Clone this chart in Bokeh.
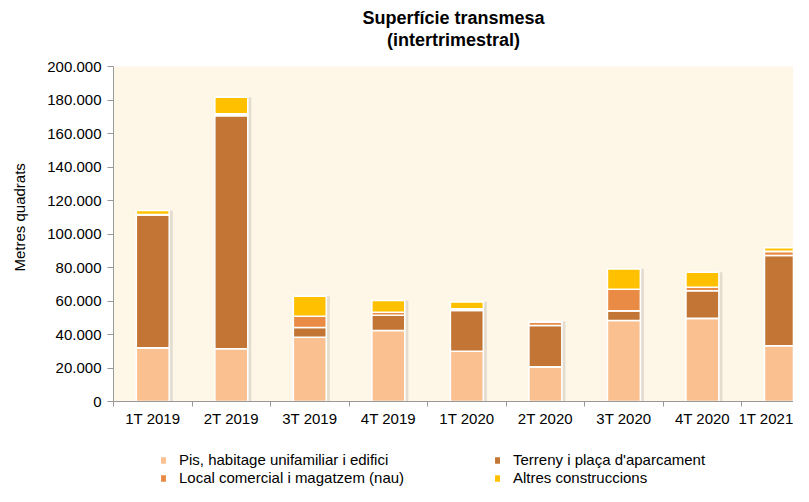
from bokeh.plotting import figure
from bokeh.layouts import column
from bokeh.models import (Range1d, FixedTicker, Title, Legend, LegendItem, ColumnDataSource)
from bokeh.embed import file_html
from bokeh.resources import INLINE

categories = ["1T 2019", "2T 2019", "3T 2019", "4T 2019", "1T 2020",
              "2T 2020", "3T 2020", "4T 2020", "1T 2021"]
pis = [32000, 31500, 38400, 42400, 30000, 20700, 48400, 49600, 33300]
terreny = [79300, 139200, 5800, 9100, 24300, 24700, 5700, 16500, 53900]
local = [300, 1000, 6700, 1800, 1000, 2000, 12900, 2100, 2400]
altres = [2400, 10000, 12000, 7000, 4200, 400, 12200, 9000, 2200]
series_names = ["Pis, habitage unifamiliar i edifici", "Terreny i plaça d'aparcament",
                "Local comercial i magatzem (nau)", "Altres construccions"]
colors = ["#FAC090", "#C27534", "#E98B44", "#FFC000"]
y_ticks = [0, 20000, 40000, 60000, 80000, 100000, 120000, 140000, 160000, 180000, 200000]

FONT = "Liberation Sans"
W = 793
H_CHART = 432
H_LEG = 54
LEFT = 113

xs = [i + 0.5 for i in range(len(categories))]
totals = [a + b + c + d for a, b, c, d in zip(pis, terreny, local, altres)]
src = ColumnDataSource(dict(x=xs, pis=pis, terreny=terreny, local=local, altres=altres,
                            total=totals, xs_shadow=[x + 0.03 for x in xs]))

p = figure(width=W, height=H_CHART, output_backend="svg", toolbar_location=None,
           x_range=Range1d(0, 8.66), y_range=Range1d(0, 200000), title=None,
           min_border_left=LEFT, min_border_right=0, min_border_top=66, min_border_bottom=31)
p.background_fill_color = "#FEF6E7"
p.border_fill_color = "white"
p.outline_line_color = None
p.xgrid.visible = False
p.ygrid.visible = False

# soft shadow
p.vbar(x="xs_shadow", top="total", bottom=0, width=0.45, source=src,
       fill_color="black", fill_alpha=0.10, line_color=None)

rs = p.vbar_stack(["pis", "terreny", "local", "altres"], x="x", width=0.42, source=src,
                  color=colors, line_color="white", line_width=1.6)
for r, c in zip(rs, colors):
    r.glyph.fill_color = c
    r.glyph.line_color = "white"

# axes
p.xaxis.ticker = FixedTicker(ticks=xs, minor_ticks=list(range(0, 10)))
p.xaxis.major_label_overrides = {x: c for x, c in zip(xs, categories)}
p.xaxis.major_tick_out = 0
p.xaxis.major_tick_in = 0
p.xaxis.minor_tick_out = 5
p.xaxis.minor_tick_in = 0
p.xaxis.major_label_standoff = 3
p.xaxis.major_label_text_font = FONT
p.xaxis.major_label_text_font_size = "15px"
p.xaxis.major_label_text_color = "black"
p.xaxis.axis_line_color = "#999999"
p.xaxis.minor_tick_line_color = "#999999"

p.yaxis.ticker = FixedTicker(ticks=y_ticks, minor_ticks=[])
p.yaxis.major_label_overrides = {v: f"{v:,}".replace(",", ".") for v in y_ticks}
p.yaxis.major_tick_out = 6
p.yaxis.major_tick_in = 0
p.yaxis.minor_tick_out = 0
p.yaxis.minor_tick_in = 0
p.yaxis.major_label_standoff = 6
p.yaxis.major_label_text_font = FONT
p.yaxis.major_label_text_font_size = "15px"
p.yaxis.major_label_text_color = "black"
p.yaxis.axis_line_color = "#999999"
p.yaxis.major_tick_line_color = "#999999"
p.yaxis.axis_label = "\u00a0" * 8 + "Metres quadrats"
p.yaxis.axis_label_text_font = FONT
p.yaxis.axis_label_text_font_size = "15px"
p.yaxis.axis_label_text_font_style = "normal"
p.yaxis.axis_label_text_color = "black"
p.yaxis.axis_label_standoff = 16

# titles: spacer first (closest to the plot), then the two lines
p.add_layout(Title(text=" ", text_font=FONT, text_font_size="13px", standoff=0), "above")
p.add_layout(Title(text="(intertrimestral)", align="center", text_font=FONT,
                   text_font_size="18px", text_font_style="bold", text_color="black",
                   standoff=0), "above")
p.add_layout(Title(text="Superfície transmesa", align="center", text_font=FONT,
                   text_font_size="18px", text_font_style="bold", text_color="black",
                   standoff=0), "above")

# legend panel (its frame is aligned with the chart frame by the column layout)
lp = figure(width=W, height=H_LEG, output_backend="svg", toolbar_location=None,
            x_range=Range1d(0, W), y_range=Range1d(0, H_LEG), title=None,
            x_axis_type=None, y_axis_type=None, min_border=0,
            min_border_left=LEFT, min_border_right=0)
lp.outline_line_color = None
lp.background_fill_color = "white"
lp.xgrid.visible = False
lp.ygrid.visible = False
dummies = [lp.vbar(x=[-10000], top=[0], width=1, fill_color=c, line_color="white", line_width=1.5)
           for c in colors]

def make_legend(idx, loc):
    return Legend(items=[LegendItem(label=series_names[i], renderers=[dummies[i]]) for i in idx],
                  location=loc, orientation="horizontal",
                  padding=0, margin=0, spacing=4, label_width=310, label_height=14,
                  glyph_width=8, glyph_height=10, label_standoff=12,
                  label_text_font=FONT, label_text_font_size="15px",
                  label_text_color="black", background_fill_alpha=0,
                  border_line_color=None)

lp.add_layout(make_legend([0, 1], (159 - LEFT, 18)))
lp.add_layout(make_legend([2, 3], (159 - LEFT, 0)))

layout = column(p, lp, spacing=0)
open("out.html", "w").write(file_html(layout, INLINE))
